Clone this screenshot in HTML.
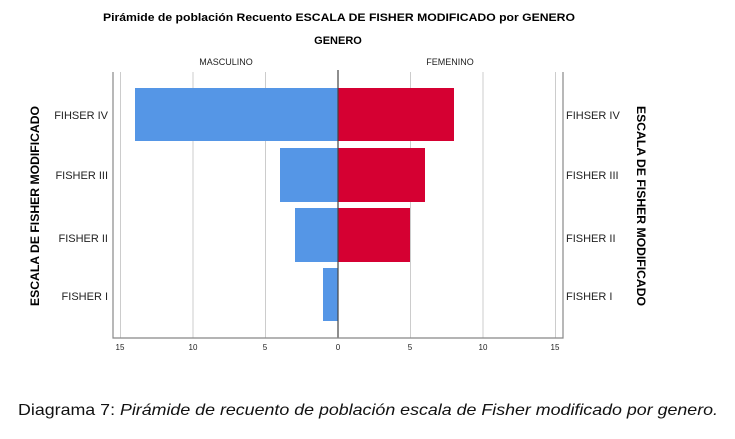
<!DOCTYPE html>
<html><head><meta charset="utf-8"><style>body{margin:0;background:#fff}</style></head><body>
<svg width="735" height="434" xmlns="http://www.w3.org/2000/svg" font-family="Liberation Sans, sans-serif">
<rect width="735" height="434" fill="#fff"/>
<text x="103" y="21" font-size="11" font-weight="bold" textLength="472" lengthAdjust="spacingAndGlyphs">Pirámide de población Recuento ESCALA DE FISHER MODIFICADO  por GENERO</text>
<text x="338" y="44" font-size="11" font-weight="bold" text-anchor="middle">GENERO</text>
<text x="226" y="65" font-size="9" text-anchor="middle" fill="#222">MASCULINO</text>
<text x="450" y="65" font-size="9" text-anchor="middle" fill="#222">FEMENINO</text>
<g stroke="#ccc" stroke-width="1">
<line x1="120.5" y1="72" x2="120.5" y2="338"/><line x1="193" y1="72" x2="193" y2="338"/><line x1="265.5" y1="72" x2="265.5" y2="338"/>
<line x1="410.5" y1="72" x2="410.5" y2="338"/><line x1="483" y1="72" x2="483" y2="338"/><line x1="555.5" y1="72" x2="555.5" y2="338"/>
</g>
<g fill="#5596e6">
<rect x="135" y="88" width="203" height="53"/>
<rect x="280" y="148" width="58" height="54"/>
<rect x="295" y="208" width="43" height="54"/>
<rect x="323" y="268" width="15" height="53"/>
</g>
<g fill="#d50032">
<rect x="338" y="88" width="116" height="53"/>
<rect x="338" y="148" width="87" height="54"/>
<rect x="338" y="208" width="72" height="54"/>
</g>
<line x1="338" y1="70" x2="338" y2="338" stroke="#444" stroke-width="1.2"/>
<g stroke="#888" stroke-width="1.2" fill="none">
<polyline points="113,72 113,338 563,338 563,72"/>
</g>
<g font-size="8" text-anchor="middle" fill="#222">
<text x="120" y="350">15</text><text x="193" y="350">10</text><text x="265" y="350">5</text><text x="338" y="350">0</text>
<text x="410" y="350">5</text><text x="483" y="350">10</text><text x="555" y="350">15</text>
</g>
<g font-size="11" fill="#222">
<text x="108" y="119" text-anchor="end">FIHSER IV</text>
<text x="108" y="179" text-anchor="end">FISHER III</text>
<text x="108" y="242" text-anchor="end">FISHER II</text>
<text x="108" y="300" text-anchor="end">FISHER I</text>
<text x="566" y="119">FIHSER IV</text>
<text x="566" y="179">FISHER III</text>
<text x="566" y="242">FISHER II</text>
<text x="566" y="300">FISHER I</text>
</g>
<text transform="translate(39,306) rotate(-90)" font-size="11.5" font-weight="bold" textLength="200" lengthAdjust="spacingAndGlyphs">ESCALA DE FISHER MODIFICADO</text>
<text transform="translate(637,106) rotate(90)" font-size="11.5" font-weight="bold" textLength="200" lengthAdjust="spacingAndGlyphs">ESCALA DE FISHER MODIFICADO</text>
<text x="18" y="415" font-size="16" fill="#111" textLength="700" lengthAdjust="spacingAndGlyphs">Diagrama 7: <tspan font-style="italic">Pirámide de recuento de población escala de Fisher modificado por genero.</tspan></text>
</svg>
</body></html>
